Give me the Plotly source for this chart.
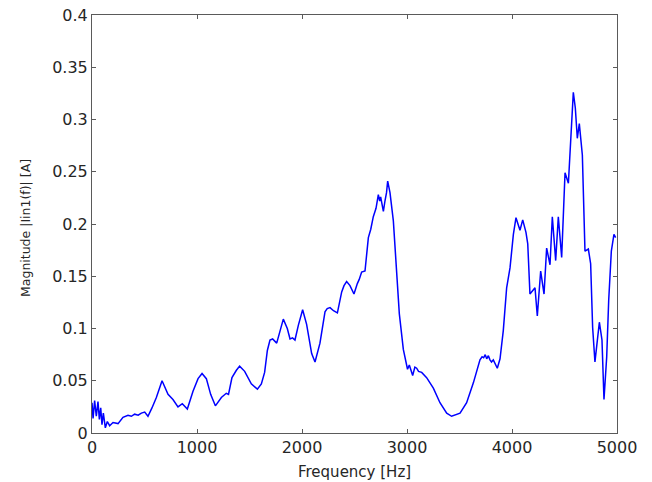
import plotly.graph_objects as go

freq = [0, 10, 25, 41, 57, 70, 83, 95, 108, 127, 146, 168, 200, 248, 295, 343, 375, 406, 440, 470, 502, 533, 571, 613, 667,
        700, 724, 771, 819, 860, 908, 962, 1010, 1048, 1089, 1130, 1175, 1232, 1279, 1300, 1333, 1375, 1406, 1454, 1517,
        1575, 1613, 1644, 1670, 1695, 1720, 1759, 1790, 1822, 1860, 1886, 1910, 1933, 1965, 2006, 2044, 2092, 2124, 2171,
        2219, 2240, 2267, 2300, 2337, 2378, 2400, 2425, 2457, 2495, 2527, 2545, 2568, 2600, 2632, 2655, 2679, 2705, 2727,
        2740, 2749, 2762, 2775, 2790, 2805, 2816, 2828, 2838, 2870, 2902, 2927, 2965, 2980, 2990, 3005, 3022, 3040, 3054,
        3075, 3092, 3110, 3140, 3187, 3251, 3314, 3378, 3425, 3460, 3505, 3568, 3632, 3695, 3715, 3730, 3745, 3759, 3775,
        3790, 3805, 3822, 3840, 3860, 3886, 3917, 3949, 3981, 4013, 4038, 4076, 4102, 4133, 4150, 4171, 4219, 4241, 4273,
        4305, 4330, 4362, 4384, 4416, 4441, 4473, 4505, 4537, 4559, 4584, 4603, 4622, 4641, 4670, 4695, 4727, 4749, 4768,
        4790, 4813, 4832, 4857, 4876, 4902, 4921, 4946, 4971, 4987, 5000]
magnitude = [0.029, 0.014, 0.031, 0.016, 0.030, 0.013, 0.024, 0.008, 0.019, 0.005, 0.011, 0.007, 0.010, 0.009, 0.015,
             0.017, 0.016, 0.018, 0.017, 0.019, 0.020, 0.016, 0.024, 0.034, 0.050, 0.043, 0.037, 0.032, 0.025, 0.028,
             0.023, 0.040, 0.052, 0.057, 0.052, 0.037, 0.026, 0.034, 0.038, 0.037, 0.053, 0.060, 0.064, 0.059, 0.047,
             0.042, 0.047, 0.058, 0.079, 0.089, 0.090, 0.086, 0.098, 0.109, 0.100, 0.090, 0.091, 0.089, 0.103, 0.118,
             0.104, 0.076, 0.068, 0.086, 0.116, 0.119, 0.120, 0.117, 0.115, 0.135, 0.141, 0.145, 0.141, 0.133, 0.143,
             0.147, 0.154, 0.155, 0.187, 0.195, 0.207, 0.215, 0.228, 0.222, 0.226, 0.219, 0.212, 0.222, 0.230, 0.241,
             0.236, 0.230, 0.203, 0.158, 0.114, 0.080, 0.072, 0.068, 0.061, 0.065, 0.058, 0.055, 0.063, 0.062, 0.059,
             0.058, 0.053, 0.043, 0.029, 0.019, 0.016, 0.017, 0.019, 0.029, 0.048, 0.070, 0.073, 0.072, 0.075, 0.071,
             0.074, 0.070, 0.068, 0.070, 0.066, 0.062, 0.071, 0.098, 0.139, 0.158, 0.190, 0.206, 0.194, 0.204, 0.192,
             0.181, 0.133, 0.139, 0.112, 0.155, 0.133, 0.177, 0.161, 0.207, 0.165, 0.207, 0.168, 0.249, 0.239, 0.285,
             0.326, 0.311, 0.282, 0.296, 0.266, 0.174, 0.176, 0.162, 0.101, 0.068, 0.092, 0.106, 0.089, 0.032, 0.073,
             0.127, 0.174, 0.190, 0.187]

x_ticks = [0, 1000, 2000, 3000, 4000, 5000]
y_ticks = [0, 0.05, 0.1, 0.15, 0.2, 0.25, 0.3, 0.35, 0.4]
y_tick_labels = ["0", "0.05", "0.1", "0.15", "0.2", "0.25", "0.3", "0.35", "0.4"]
x_title = "Frequency [Hz]"
y_title = "Magnitude |Iin1(f)| [A]"

FONT = "DejaVu Sans, Liberation Sans, Arial, sans-serif"
TXT = "#262626"
AX = "#5a5a5a"

fig = go.Figure(go.Scatter(x=freq, y=magnitude, mode="lines",
                           line=dict(color="#0000ff", width=1.5), showlegend=False))

axis_common = dict(showline=True, linecolor=AX, linewidth=1, mirror="ticks", automargin=False,
                   ticks="inside", ticklen=4, tickcolor=AX, showgrid=False, zeroline=False,
                   tickfont=dict(family=FONT, size=16, color=TXT))

fig.update_layout(
    width=652, height=482,
    margin=dict(l=92, r=35, t=15, b=49, autoexpand=False),
    paper_bgcolor="white", plot_bgcolor="white",
    font=dict(family=FONT, color=TXT),
    xaxis=dict(range=[0, 5000], tickvals=x_ticks, ticktext=[str(v) for v in x_ticks], **axis_common),
    yaxis=dict(range=[0, 0.4], tickvals=y_ticks, ticktext=y_tick_labels, **axis_common),
    annotations=[
        dict(text=x_title, xref="paper", yref="paper", x=0.5, y=-0.093, xanchor="center", yanchor="middle",
             showarrow=False, font=dict(family=FONT, size=15, color=TXT)),
        dict(text=y_title, xref="paper", yref="paper", x=-0.128, y=0.49, xanchor="center", yanchor="middle",
             textangle=-90, showarrow=False, font=dict(family=FONT, size=12.5, color=TXT)),
    ],
)

fig.write_html("out.html", config={"displayModeBar": False},
               post_script="document.body.style.margin='0';")
